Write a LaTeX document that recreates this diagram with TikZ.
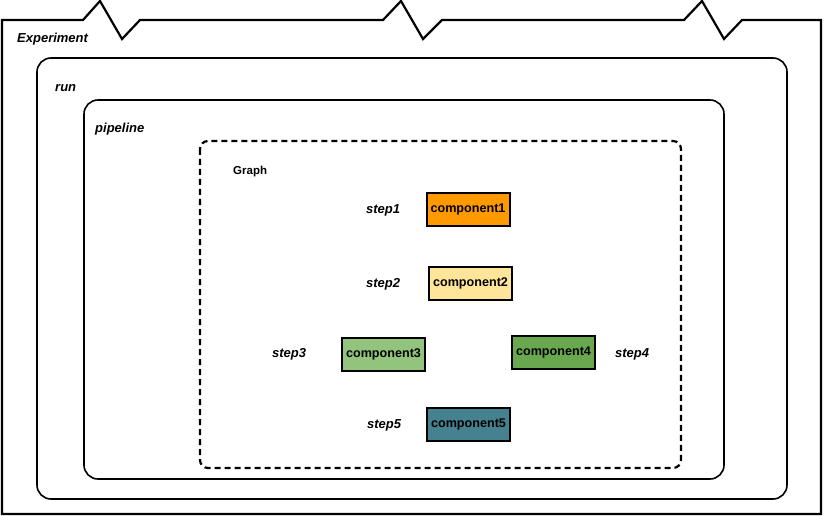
\documentclass[tikz,border=0pt]{standalone}
\usepackage{fontspec}
\setmainfont{Liberation Sans}
\tikzset{
  lbl/.style={font=\fontsize{13}{15}\selectfont\bfseries\itshape, inner sep=0pt},
  comp/.style={draw, line width=2pt, minimum width=83pt, minimum height=33pt,
    inner sep=1pt, font=\fontsize{12.6}{15}\selectfont\bfseries},
  frame/.style={line width=1.6pt, rounded corners=14pt}
}
\definecolor{cOne}{HTML}{FF9900}
\definecolor{cTwo}{HTML}{FFE599}
\definecolor{cThree}{HTML}{93C47D}
\definecolor{cFour}{HTML}{6AA84F}
\definecolor{cFive}{HTML}{45818E}
\begin{document}
\begin{tikzpicture}[x=1pt,y=-1pt]
  \useasboundingbox (0,0) rectangle (825,516);
  % experiment: torn top edge
  \draw[line width=2.2pt] (2,514) -- (2,20) -- (83,20) -- (100,1) -- (122,39) -- (140,20)
    -- (383,20) -- (401,1) -- (423,39) -- (442,20) -- (684,20) -- (702,1) -- (724,39)
    -- (742,20) -- (821,20) -- (821,514) -- cycle;
  \draw[frame] (37,58) rectangle (787,499);
  \draw[frame] (84,100) rectangle (724,479);
  \draw[line width=2.2pt, dash pattern=on 6pt off 4pt, rounded corners=8pt] (200,141) rectangle (681,468);
  \node[lbl, anchor=west] (experiment) at (17,39.5) {Experiment};
  \node[lbl, anchor=west] (run) at (55,88.5) {run};
  \node[lbl, anchor=west] (pipeline) at (95,129.5) {pipeline};
  \node[font=\fontsize{11.5}{13}\selectfont\bfseries, inner sep=0pt, anchor=west] (graph) at (233,172) {Graph};
  % components and their steps
  \node[comp, fill=cOne] (comp1) at (468,209.5) {component1};
  \node[comp, fill=cTwo] (comp2) at (470.5,283.5) {component2};
  \node[comp, fill=cThree] (comp3) at (383.5,354) {component3};
  \node[comp, fill=cFour] (comp4) at (553.5,352.5) {component4};
  \node[comp, fill=cFive] (comp5) at (468.5,424) {component5};
  \node[lbl] (step1) at (383,210.5) {step1};
  \node[lbl] (step2) at (383,284.5) {step2};
  \node[lbl] (step3) at (289,354.5) {step3};
  \node[lbl] (step4) at (632,354.5) {step4};
  \node[lbl] (step5) at (384,425.5) {step5};
\end{tikzpicture}
\end{document}
